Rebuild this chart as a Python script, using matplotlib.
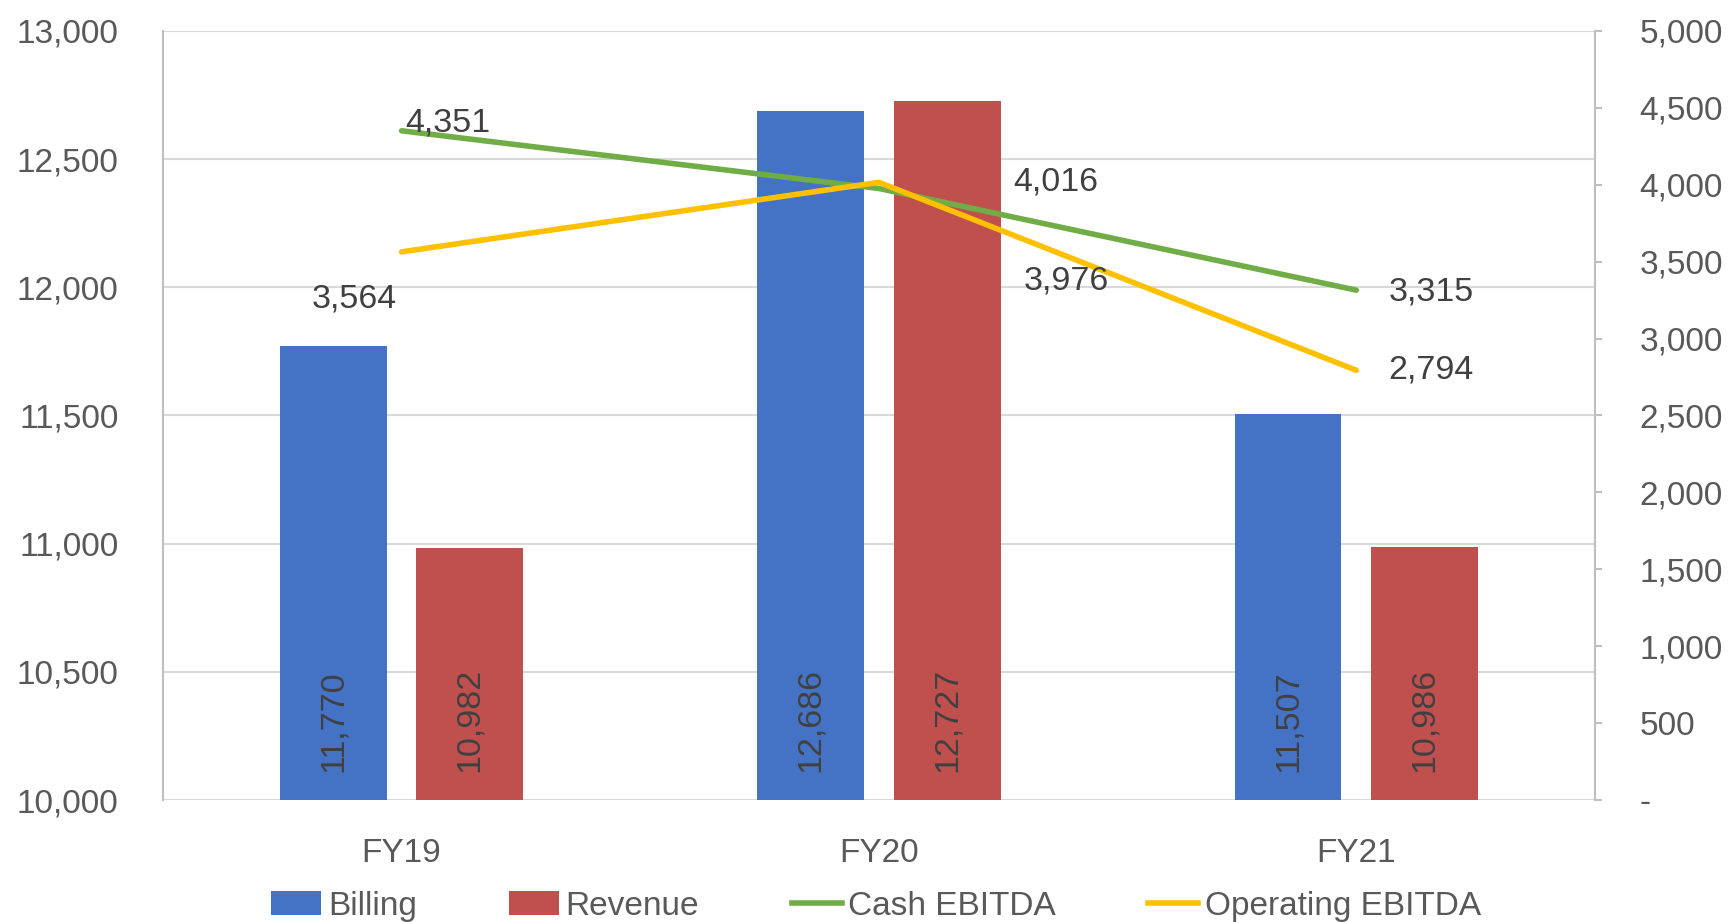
import matplotlib
matplotlib.use("Agg")
import matplotlib.pyplot as plt
from matplotlib.patches import Patch
from matplotlib.lines import Line2D
from matplotlib.ticker import FuncFormatter, MultipleLocator
import numpy as np

# Datos del gráfico
years = ["FY19", "FY20", "FY21"]
billing = [11770, 12686, 11507]
revenue = [10982, 12727, 10986]
cash_ebitda = [4351, 3976, 3315]
operating_ebitda = [3564, 4016, 2794]

# Colores estilo Excel
c_billing = "#4472C4"
c_revenue = "#C0504D"
c_cash = "#70AD47"
c_oper = "#FFC000"
c_text = "#595959"
c_label = "#404040"

plt.rcParams["font.family"] = ["Liberation Sans", "DejaVu Sans"]
plt.rcParams["font.size"] = 24

fig = plt.figure(figsize=(17.28, 9.22), dpi=100)
ax = fig.add_axes([0.0943, 0.1323, 0.8287, 0.8341])

x = np.arange(len(years))
width = 0.224
offset = 0.143

ax.bar(x - offset, billing, width=width, color=c_billing, zorder=2)
ax.bar(x + offset, revenue, width=width, color=c_revenue, zorder=2)
ax.set_xlim(-0.5, 2.5)
ax.set_ylim(10000, 13000)
ax.yaxis.set_major_locator(MultipleLocator(500))
ax.yaxis.set_major_formatter(FuncFormatter(lambda v, p: f"{v:,.0f}"))
ax.yaxis.grid(True, color="#D9D9D9", linewidth=1.5)
ax.set_axisbelow(True)
ax.set_xticks(x)
ax.set_xticklabels(years)
ax.tick_params(axis="x", length=0, pad=27, colors=c_text, labelsize=24)
ax.tick_params(axis="y", length=0, pad=32, colors=c_text, labelsize=24)
for s in ["top", "bottom", "right"]:
    ax.spines[s].set_visible(False)
ax.spines["left"].set_color("#BFBFBF")
ax.spines["left"].set_linewidth(1.5)

# Etiquetas verticales dentro de las barras
for xi, b, r in zip(x, billing, revenue):
    for pos, v in [(xi - offset, b), (xi + offset, r)]:
        ax.annotate(f"{v:,}", xy=(pos, 10000), xytext=(0, 28),
                    textcoords="offset pixels", rotation=90,
                    ha="center", va="bottom", color=c_label, fontsize=24.5,
                    zorder=3)

# Eje secundario para EBITDA
ax2 = ax.twinx()
ax2.set_ylim(0, 5000)
ax2.yaxis.set_major_locator(MultipleLocator(500))
ax2.yaxis.set_major_formatter(
    FuncFormatter(lambda v, p: "-" if v == 0 else f"{v:,.0f}"))
ax2.tick_params(axis="y", length=5, width=1.5, color="#BFBFBF", pad=27,
                colors=c_text, labelsize=24)
ax2.tick_params(axis="y", color="#BFBFBF")
for s in ["top", "bottom", "left"]:
    ax2.spines[s].set_visible(False)
ax2.spines["right"].set_color("#BFBFBF")
ax2.spines["right"].set_linewidth(1.5)

ax2.plot(x, cash_ebitda, color=c_cash, linewidth=4,
         solid_capstyle="round", zorder=3)
ax2.plot(x, operating_ebitda, color=c_oper, linewidth=4,
         solid_capstyle="round", zorder=4)

# Posición de las etiquetas (desplazamiento en píxeles y alineación)
cash_lbl = [((4, 8), "left"), ((187, -93), "center"), ((32, -2), "left")]
oper_lbl = [((-47, -47), "center"), ((177, 0), "center"), ((32, 0), "left")]
for vals, lbls in [(cash_ebitda, cash_lbl), (operating_ebitda, oper_lbl)]:
    for xi, v, (off, ha) in zip(x, vals, lbls):
        ax2.annotate(f"{v:,}", xy=(xi, v), xytext=off,
                     textcoords="offset pixels", ha=ha, va="center",
                     color=c_label, fontsize=24.5, zorder=5)

handles = [
    Patch(facecolor=c_billing),
    Patch(facecolor=c_revenue),
    Line2D([0], [0], color=c_cash, linewidth=4),
    Line2D([0], [0], color=c_oper, linewidth=4),
]
fig.legend(handles, ["Billing", "Revenue", "Cash EBITDA", "Operating EBITDA"],
           loc="center", bbox_to_anchor=(0.507, 0.017), ncol=4,
           frameon=False, fontsize=24, handlelength=1.5, handletextpad=0.2,
           columnspacing=2.77, labelcolor=c_text)

fig.savefig("out.png", dpi=100)
plt.close(fig)
